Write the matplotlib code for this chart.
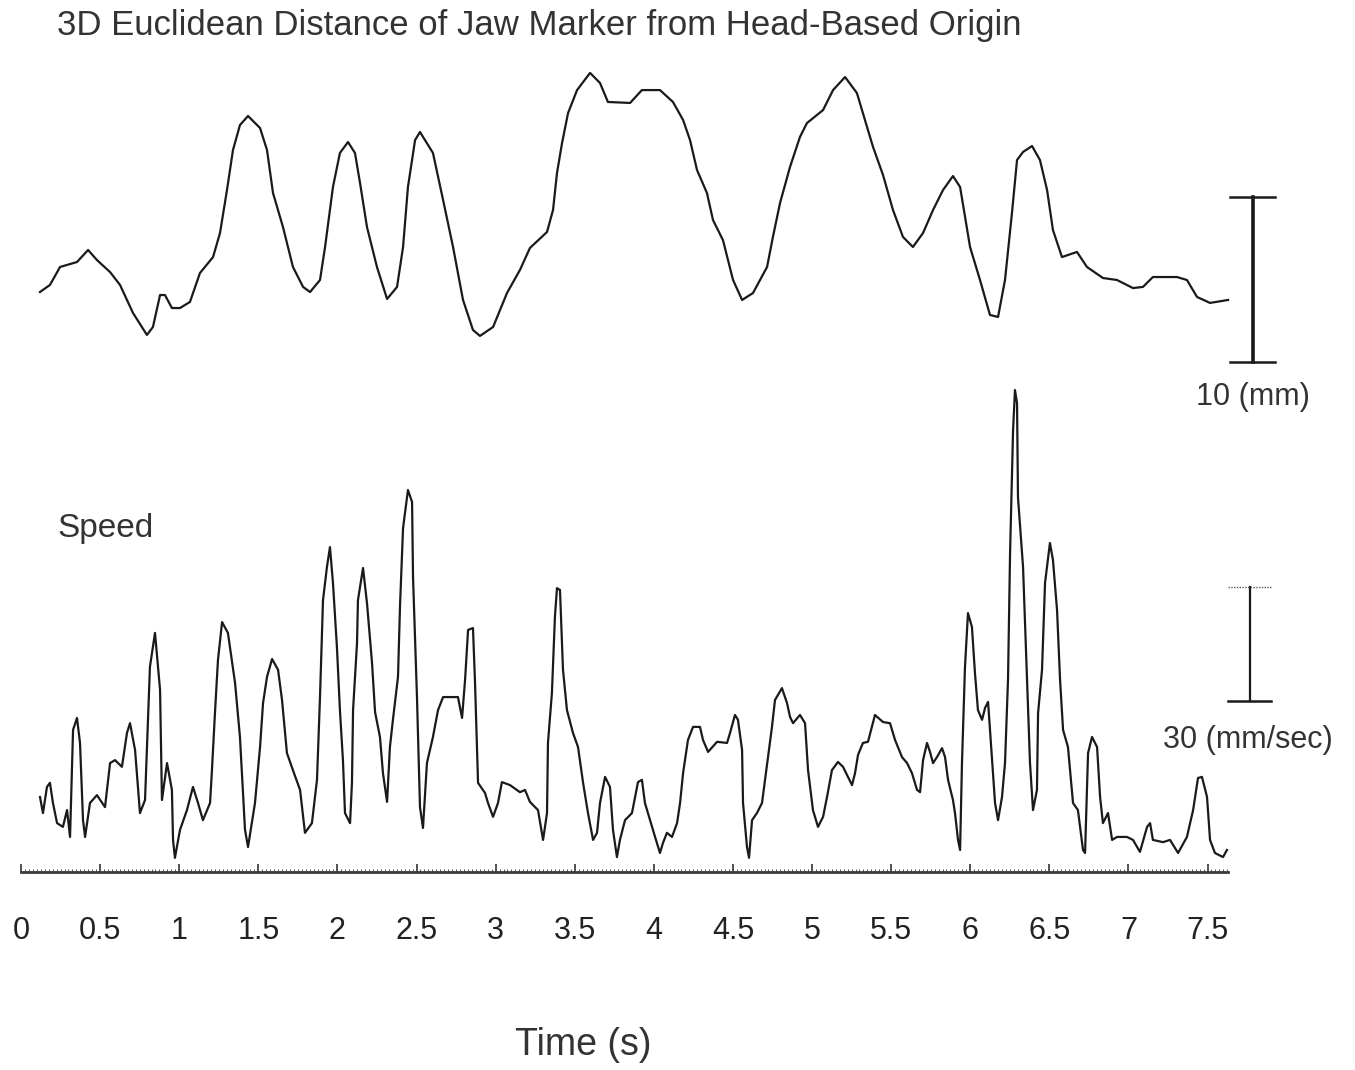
import numpy as np
import matplotlib
matplotlib.use("Agg")
import matplotlib.pyplot as plt
from matplotlib.ticker import FixedLocator, NullFormatter

# distance of jaw marker (mm, relative to bar base)
dist_t = [0.120, 0.183, 0.247, 0.354, 0.424, 0.480, 0.563, 0.626, 0.708, 0.796,
          0.834, 0.879, 0.910, 0.954, 1.005, 1.068, 1.131, 1.214, 1.258, 1.302,
          1.340, 1.384, 1.435, 1.511, 1.555, 1.593, 1.656, 1.719, 1.783, 1.827,
          1.890, 1.922, 1.972, 2.016, 2.067, 2.111, 2.143, 2.187, 2.250, 2.314,
          2.377, 2.415, 2.446, 2.491, 2.522, 2.604, 2.668, 2.731, 2.794, 2.857,
          2.901, 2.984, 3.072, 3.154, 3.217, 3.325, 3.363, 3.388, 3.420, 3.458,
          3.515, 3.597, 3.660, 3.710, 3.850, 3.925, 4.039, 4.121, 4.185, 4.229,
          4.273, 4.336, 4.374, 4.437, 4.501, 4.558, 4.627, 4.716, 4.753, 4.798,
          4.861, 4.924, 4.968, 5.070, 5.133, 5.209, 5.284, 5.348, 5.386, 5.449,
          5.512, 5.575, 5.638, 5.702, 5.765, 5.828, 5.891, 5.936, 5.999, 6.062,
          6.125, 6.176, 6.220, 6.264, 6.296, 6.334, 6.391, 6.441, 6.486, 6.523,
          6.580, 6.675, 6.738, 6.839, 6.928, 7.029, 7.092, 7.155, 7.307, 7.370,
          7.434, 7.516, 7.630]
dist_mm = [4.24, 4.67, 5.76, 6.06, 6.79, 6.18, 5.45, 4.67, 2.97, 1.64,
           2.12, 4.06, 4.06, 3.27, 3.27, 3.64, 5.39, 6.36, 7.82, 10.42,
           12.85, 14.36, 14.91, 14.18, 12.85, 10.24, 8.18, 5.76, 4.55, 4.24,
           4.97, 6.97, 10.61, 12.67, 13.33, 12.67, 10.85, 8.18, 5.76, 3.82,
           4.55, 6.97, 10.61, 13.45, 13.94, 12.67, 9.82, 6.97, 3.76, 1.94,
           1.58, 2.12, 4.18, 5.58, 6.91, 7.88, 9.21, 11.45, 13.27, 15.09,
           16.48, 17.52, 16.91, 15.76, 15.70, 16.48, 16.48, 15.76, 14.67, 13.45,
           11.64, 10.24, 8.61, 7.39, 4.97, 3.76, 4.18, 5.76, 7.58, 9.64,
           11.82, 13.64, 14.48, 15.27, 16.48, 17.27, 16.30, 14.24, 13.03, 11.33,
           9.21, 7.58, 6.97, 7.82, 9.21, 10.42, 11.27, 10.61, 6.97, 4.97,
           2.85, 2.73, 4.97, 9.03, 12.24, 12.73, 13.09, 12.24, 10.42, 8.00,
           6.36, 6.67, 5.76, 5.09, 4.97, 4.48, 4.55, 5.15, 5.15, 4.97,
           3.94, 3.58, 3.76]

# speed (mm/sec)
speed_t = [0.120, 0.139, 0.164, 0.183, 0.202, 0.228, 0.265, 0.291, 0.310, 0.329,
           0.354, 0.373, 0.392, 0.405, 0.436, 0.480, 0.531, 0.563, 0.594, 0.638,
           0.670, 0.689, 0.721, 0.752, 0.784, 0.815, 0.847, 0.879, 0.891, 0.923,
           0.954, 0.961, 0.973, 1.005, 1.049, 1.087, 1.119, 1.150, 1.195, 1.207,
           1.226, 1.245, 1.271, 1.308, 1.353, 1.384, 1.416, 1.435, 1.479, 1.511,
           1.530, 1.555, 1.587, 1.625, 1.650, 1.681, 1.719, 1.764, 1.795, 1.839,
           1.871, 1.890, 1.909, 1.934, 1.953, 1.972, 1.997, 2.016, 2.035, 2.048,
           2.080, 2.092, 2.099, 2.124, 2.130, 2.162, 2.187, 2.219, 2.238, 2.269,
           2.288, 2.314, 2.332, 2.351, 2.383, 2.396, 2.415, 2.446, 2.472, 2.478,
           2.503, 2.522, 2.541, 2.566, 2.604, 2.636, 2.668, 2.762, 2.788, 2.807,
           2.826, 2.857, 2.870, 2.889, 2.933, 2.952, 2.984, 3.015, 3.040, 3.091,
           3.154, 3.186, 3.217, 3.268, 3.300, 3.325, 3.331, 3.356, 3.375, 3.388,
           3.407, 3.426, 3.451, 3.489, 3.521, 3.553, 3.584, 3.616, 3.641, 3.660,
           3.692, 3.723, 3.742, 3.767, 3.786, 3.818, 3.862, 3.900, 3.925, 3.944,
           3.976, 4.008, 4.039, 4.058, 4.083, 4.115, 4.147, 4.166, 4.185, 4.216,
           4.248, 4.292, 4.311, 4.343, 4.400, 4.463, 4.482, 4.513, 4.532, 4.558,
           4.564, 4.589, 4.602, 4.621, 4.652, 4.684, 4.703, 4.722, 4.747, 4.766,
           4.810, 4.842, 4.861, 4.880, 4.924, 4.956, 4.975, 5.006, 5.038, 5.070,
           5.095, 5.126, 5.164, 5.196, 5.253, 5.272, 5.291, 5.322, 5.354, 5.398,
           5.449, 5.493, 5.525, 5.569, 5.601, 5.632, 5.664, 5.683, 5.702, 5.727,
           5.746, 5.765, 5.790, 5.822, 5.841, 5.860, 5.891, 5.904, 5.923, 5.936,
           5.948, 5.967, 5.986, 6.011, 6.030, 6.049, 6.075, 6.094, 6.113, 6.138,
           6.157, 6.176, 6.201, 6.220, 6.239, 6.252, 6.271, 6.283, 6.296, 6.302,
           6.334, 6.359, 6.378, 6.397, 6.422, 6.429, 6.454, 6.473, 6.504, 6.523,
           6.549, 6.568, 6.587, 6.618, 6.650, 6.681, 6.713, 6.726, 6.745, 6.770,
           6.802, 6.821, 6.839, 6.871, 6.897, 6.928, 6.991, 7.029, 7.073, 7.118,
           7.137, 7.155, 7.219, 7.263, 7.314, 7.370, 7.409, 7.440, 7.465, 7.497,
           7.516, 7.547, 7.598, 7.623]
speed_mms = [20.1, 15.8, 22.8, 23.9, 18.5, 13.1, 12.1, 16.6, 9.4, 38.1,
             41.3, 34.6, 13.9, 9.4, 18.5, 20.6, 17.4, 29.2, 30.0, 28.2,
             37.3, 39.9, 32.7, 15.8, 19.3, 55.0, 64.1, 48.8, 19.3, 29.2,
             22.0, 8.6, 3.8, 11.3, 16.6, 22.8, 18.5, 13.9, 18.5, 27.3,
             42.6, 56.8, 67.0, 64.1, 50.7, 36.2, 11.3, 6.7, 18.5, 33.5,
             45.3, 52.3, 57.1, 54.2, 46.1, 31.9, 27.3, 22.0, 10.5, 13.1,
             24.7, 46.9, 72.9, 81.8, 87.1, 77.5, 60.3, 43.4, 30.0, 15.8,
             13.1, 23.9, 43.4, 61.4, 72.9, 81.5, 72.1, 56.0, 42.9, 36.2,
             26.5, 18.8, 33.5, 40.8, 52.3, 71.6, 92.2, 102.4, 99.2, 79.1,
             46.9, 17.4, 11.8, 29.2, 36.2, 43.4, 46.9, 46.9, 41.3, 51.5,
             64.9, 65.4, 50.7, 23.9, 21.2, 18.5, 14.8, 18.5, 24.1, 23.3,
             21.4, 22.0, 18.8, 16.6, 8.6, 15.8, 34.6, 48.0, 68.4, 76.1,
             75.6, 54.2, 43.4, 37.3, 33.5, 23.9, 15.8, 8.6, 10.5, 18.5,
             25.5, 22.8, 11.3, 4.0, 8.6, 13.9, 15.8, 24.1, 24.7, 18.5,
             13.9, 9.4, 5.1, 7.8, 10.5, 9.4, 13.1, 18.5, 26.5, 35.4,
             38.9, 38.9, 35.4, 32.2, 34.9, 34.6, 37.3, 42.1, 40.8, 32.7,
             18.5, 6.7, 3.8, 13.9, 15.8, 18.5, 24.7, 30.8, 38.9, 46.1,
             49.3, 45.3, 41.6, 39.9, 42.1, 39.9, 27.3, 16.6, 12.1, 14.8,
             20.1, 27.3, 29.5, 28.2, 23.3, 26.5, 31.4, 34.6, 34.9, 42.1,
             40.2, 39.9, 35.4, 30.8, 29.2, 26.5, 22.0, 21.4, 30.0, 34.6,
             32.2, 29.2, 30.8, 33.2, 30.8, 24.7, 19.3, 15.8, 8.6, 5.9,
             29.2, 55.0, 69.4, 65.7, 53.4, 43.4, 40.8, 44.0, 45.6, 30.0,
             18.5, 13.9, 20.1, 29.2, 51.5, 85.5, 118.5, 129.2, 125.7, 100.5,
             81.8, 51.5, 29.2, 16.6, 22.0, 42.6, 54.2, 77.5, 88.2, 83.7,
             70.2, 51.5, 38.1, 33.5, 18.5, 16.6, 5.9, 5.1, 31.9, 36.2,
             33.5, 20.1, 13.1, 15.8, 8.6, 9.4, 9.4, 8.6, 5.4, 12.1,
             13.1, 8.6, 8.0, 8.6, 5.1, 9.4, 16.6, 25.2, 25.5, 20.1,
             8.6, 5.1, 4.0, 5.9]

tick_vals = [0, 0.5, 1, 1.5, 2, 2.5, 3, 3.5, 4, 4.5, 5, 5.5, 6, 6.5, 7, 7.5]
tick_labels = ["0", "0.5", "1", "1.5", "2", "2.5", "3", "3.5", "4", "4.5",
               "5", "5.5", "6", "6.5", "7", "7.5"]
t_end = 7.63

W, H = 1355, 1070
px_per_s = 158.2
x0 = 21  # pixel of t = 0
xlim = (-x0 / px_per_s, (W - x0) / px_per_s)

plt.rcParams['font.family'] = ['Liberation Sans', 'DejaVu Sans']
fig = plt.figure(figsize=(W / 100, H / 100), dpi=100)
ink = '#1a1a1a'
txt = '#333333'

# bottom panel: speed, 3.73 px per mm/s, 0 at pixel row 872
ax2 = fig.add_axes([0, (H - 872) / H, 1, 492 / H])
ax2.set_xlim(*xlim)
ax2.set_ylim(0, 492 / 3.73)
ax2.patch.set_visible(False)
ax2.plot(speed_t, speed_mms, color=ink, lw=1.6, clip_on=False)
for s in ['top', 'left', 'right']:
    ax2.spines[s].set_visible(False)
ax2.spines['bottom'].set_bounds(0, t_end)
ax2.spines['bottom'].set_linewidth(2.0)
ax2.spines['bottom'].set_color('#3a3a3a')
ax2.set_yticks([])
ax2.xaxis.set_major_locator(FixedLocator(tick_vals))
ax2.xaxis.set_minor_locator(FixedLocator(np.arange(0, t_end, 0.025)))
ax2.xaxis.set_minor_formatter(NullFormatter())
ax2.set_xticklabels(tick_labels, fontsize=22, color='#222222')
ax2.tick_params(axis='x', which='major', direction='in', length=6, width=1.2,
                pad=32, colors='#333333', labelcolor='#222222')
ax2.tick_params(axis='x', which='minor', direction='in', length=2, width=0.7,
                colors='#555555')
# 30 mm/sec scale bar
ax2.plot([7.766, 7.766], [45.8, 76.4], color=ink, lw=1.6, clip_on=False)
ax2.plot([7.630, 7.902], [76.4, 76.4], color='#555555', lw=1.0, ls=(0, (1, 1)), clip_on=False)
ax2.plot([7.630, 7.902], [45.8, 45.8], color=ink, lw=1.8, clip_on=False)
ax2.text(7.756, 35.4, "30 (mm/sec)", ha='center', va='center', fontsize=22, color=txt)
ax2.text(0.228, 92.2, "Speed", ha='left', va='center', fontsize=24, color=txt)

# top panel: distance, 16.5 px per mm, 0 mm at pixel row 362
ax1 = fig.add_axes([0, (H - 380) / H, 1, 340 / H])
ax1.set_xlim(*xlim)
ax1.set_ylim((362 - 380) / 16.5, (362 - 40) / 16.5)
ax1.plot(dist_t, dist_mm, color=ink, lw=1.6)
ax1.axis('off')
# 10 mm scale bar
ax1.plot([7.788, 7.788], [0, 10], color=ink, lw=2.6, clip_on=False)
ax1.plot([7.642, 7.927], [10, 10], color=ink, lw=1.8, clip_on=False)
ax1.plot([7.642, 7.927], [0, 0], color=ink, lw=1.8, clip_on=False)
ax1.text(7.788, -2.1, "10 (mm)", ha='center', va='center', fontsize=22, color=txt)

fig.text(57 / W, 1 - 26 / H, "3D Euclidean Distance of Jaw Marker from Head-Based Origin",
         ha='left', va='center', fontsize=25, color=txt)
fig.text(583 / W, 1 - 1045 / H, "Time (s)", ha='center', va='center',
         fontsize=27, color=txt)

fig.savefig('out.png', dpi=100, facecolor='white')
